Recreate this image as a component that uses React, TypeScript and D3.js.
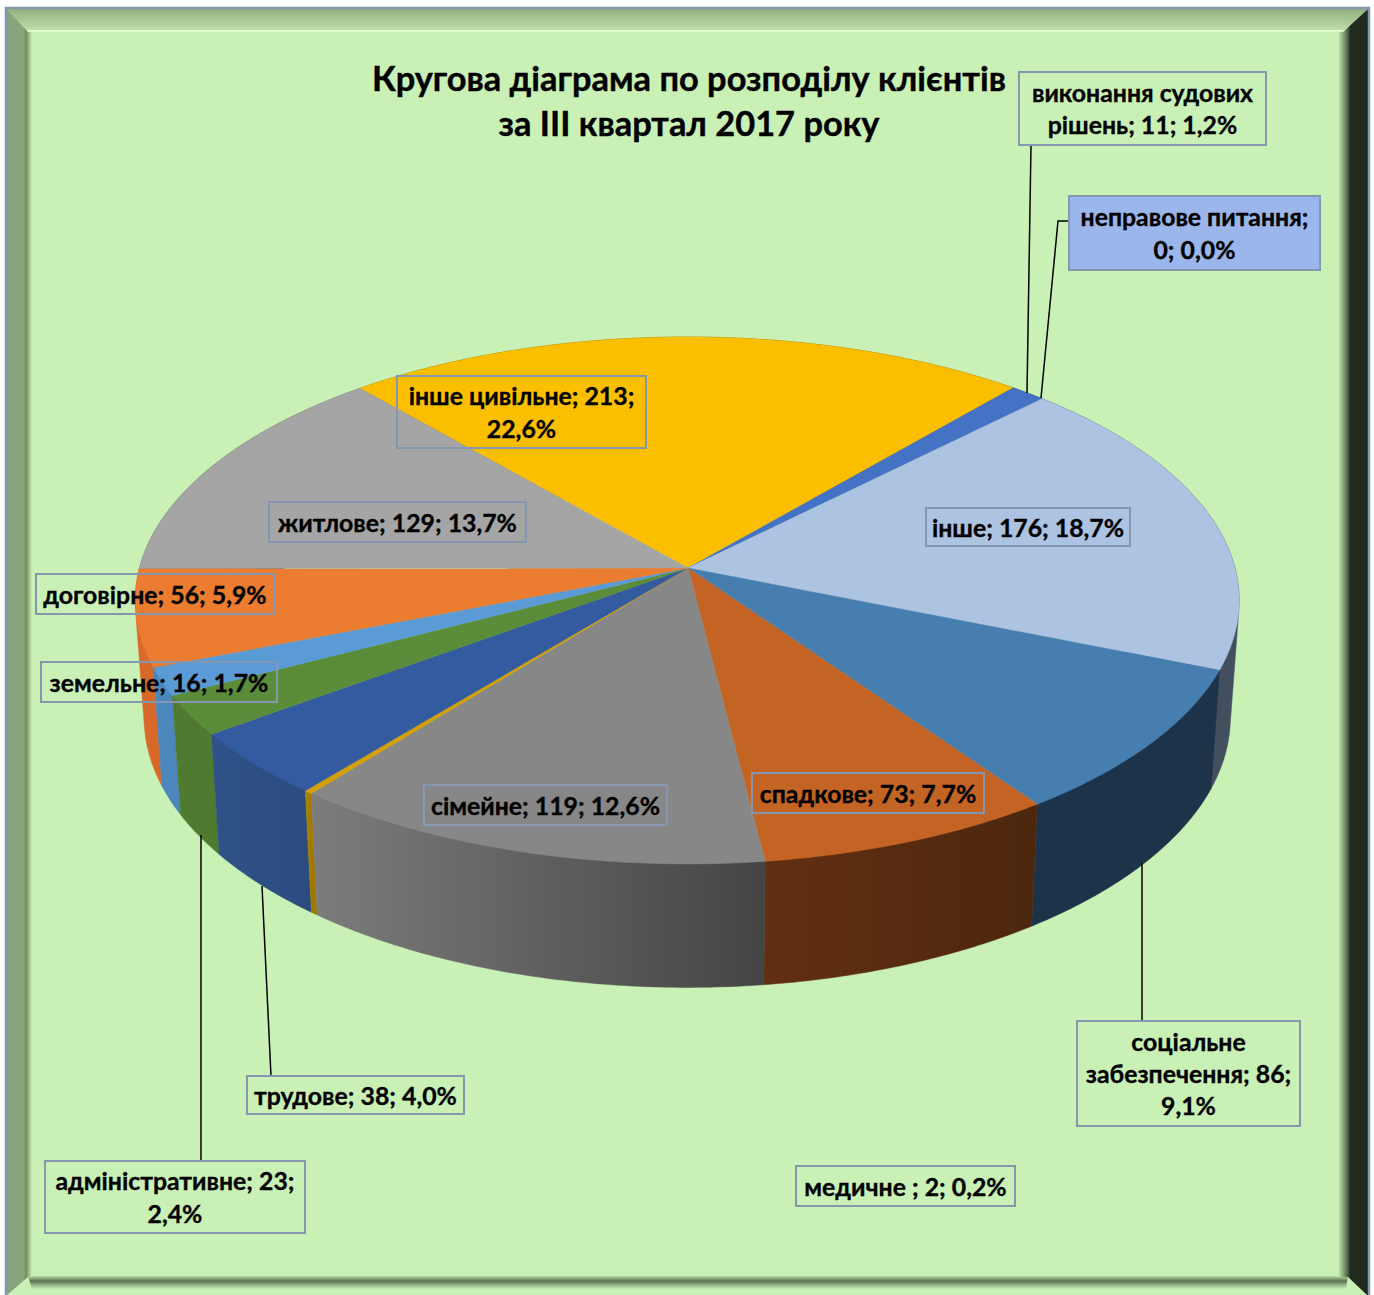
import React from 'react';
import * as d3 from 'd3';

const categories = ['інше цивільне', 'виконання судових рішень', 'неправове питання', 'інше', 'соціальне забезпечення', 'спадкове', 'сімейне', 'медичне ', 'трудове', 'адміністративне', 'земельне', 'договірне', 'житлове'];
const values = [213, 11, 0, 176, 86, 73, 119, 2, 38, 23, 16, 56, 129];
const percents = ['22,6%', '1,2%', '0,0%', '18,7%', '9,1%', '7,7%', '12,6%', '0,2%', '4,0%', '2,4%', '1,7%', '5,9%', '13,7%'];
const titleLines = ['Кругова діаграма по розподілу клієнтів', 'за ІІІ квартал 2017 року'];

const topColors = ['#fcbf00', '#4472c4', '#9bb6ea', '#adc3e2', '#477eb0', '#c46424', '#878787', '#d6a100', '#345ba0', '#5b8c3a', '#5b9bd5', '#ec7c30', '#a5a5a5'];
const wallFrom = ['#7f6000', '#223a63', '#4d5b75', '#434f5e', '#1c334a', '#622f12', '#7c7c7c', '#ad8200', '#2f5288', '#4f7a2f', '#4b86bd', '#d8692a', '#6a6a6a'];
const wallTo = ['#7f6000', '#223a63', '#4d5b75', '#434f5e', '#1c334a', '#4c270e', '#444444', '#a07800', '#2c4c80', '#4f7a2f', '#4b86bd', '#d8692a', '#6a6a6a'];

// label boxes, in slice order: left, top, right, bottom, word count per line
const boxes: [number, number, number, number, number[]][] = [
  [397, 376, 646, 448, [3, 1]],
  [1019, 72, 1266, 145, [2, 3]],
  [1069, 196, 1320, 270, [2, 2]],
  [926, 508, 1130, 546, [3]],
  [1077, 1021, 1300, 1126, [1, 2, 1]],
  [752, 773, 984, 813, [3]],
  [424, 785, 667, 825, [3]],
  [796, 1166, 1015, 1206, [4]],
  [247, 1076, 464, 1114, [3]],
  [45, 1161, 305, 1233, [2, 1]],
  [41, 662, 277, 702, [3]],
  [36, 574, 274, 614, [3]],
  [269, 502, 526, 542, [3]],
];
const leaders = [
  [[1031, 145], [1027, 393]],
  [[1069, 221], [1058, 221], [1041, 398]],
  [[1142, 863], [1142, 1021]],
  [[262, 886], [271, 1076]],
  [[201, 835], [201, 1161]],
];

const FONT = 'Lato, "Noto Sans", sans-serif';
const K = 0.1233;
const CX = 687.2;
const APEX: [number, number] = [688, 568];
const top = (a: number): [number, number] => {
  const u = Math.sin(a), v = -Math.cos(a), d = 1 - K * v;
  return [CX + (547.8 * u) / d, 568 + (259.5 * v) / d];
};
const bottom = (a: number): [number, number] => {
  const u = Math.sin(a), v = -Math.cos(a), d = 1 - K * v;
  return [CX + (539 * u) / d, 684 + (266 * v) / d];
};
const sample = (a0: number, a1: number) => {
  const n = Math.max(2, Math.ceil(Math.abs(a1 - a0) / 0.01));
  return d3.range(n + 1).map((i) => a0 + ((a1 - a0) * i) / n);
};
const line = d3.line();

const arcs = d3
  .pie<number>()
  .sort(null)
  .startAngle((-40.8 * Math.PI) / 180)
  .endAngle(((360 - 40.8) * Math.PI) / 180)(values);

// outer wall = hull of the slice's upper and lower rim; the top face hides the rest
const wallPath = (a0: number, a1: number) => {
  const s = sample(a0, a1);
  const hull = d3.polygonHull([...s.map(top), ...s.map(bottom)]) as [number, number][];
  return line(hull) + 'Z';
};
const topPath = (a0: number, a1: number) => line([APEX, ...sample(a0, a1).map(top)]) + 'Z';
const midFront = (a0: number, a1: number) => top((a0 + a1) / 2)[1];

function Label({ i }: { i: number }) {
  const [x0, y0, x1, y1, counts] = boxes[i];
  const words = `${categories[i]}; ${values[i]}; ${percents[i]}`.split(/\s+/);
  let p = 0;
  const lines = counts.map((c) => {
    const s = words.slice(p, p + c).join(' ');
    p += c;
    return s;
  });
  const lh = 32.3;
  const cy = (y0 + y1) / 2;
  return (
    <g>
      <rect x={x0} y={y0} width={x1 - x0} height={y1 - y0} fill={i === 2 ? '#9bb6ea' : 'none'} stroke="#8496b0" strokeWidth={2} />
      {lines.map((l, j) => (
        <text key={j} x={(x0 + x1) / 2} y={cy + (j - (lines.length - 1) / 2) * lh + 9.5} textAnchor="middle" fontFamily={FONT} fontWeight={700} fontSize={24.8} fill="#000" stroke="#000" strokeWidth={0.35}>
          {l}
        </text>
      ))}
    </g>
  );
}

export default function App() {
  return (
    <svg width={1374} height={1295} viewBox="0 0 1374 1295" style={{ position: 'absolute', left: 0, top: 0 }}>
      <defs>
        <linearGradient id="bt" x1="0" x2="0" y1="0" y2="1">
          <stop offset="0" stopColor="#90b07e" />
          <stop offset="0.9" stopColor="#bddca9" />
          <stop offset="0.93" stopColor="#e8fcd4" />
          <stop offset="1" stopColor="#d8f5c4" />
        </linearGradient>
        <linearGradient id="bl" x1="0" x2="1" y1="0" y2="0">
          <stop offset="0" stopColor="#86a57a" />
          <stop offset="0.68" stopColor="#86a57a" />
          <stop offset="0.76" stopColor="#6f8a63" />
          <stop offset="1" stopColor="#c9f1b5" />
        </linearGradient>
        <linearGradient id="br" x1="0" x2="1" y1="0" y2="0">
          <stop offset="0" stopColor="#c9f1b5" />
          <stop offset="0.3" stopColor="#5a6c50" />
          <stop offset="0.42" stopColor="#212a1e" />
          <stop offset="1" stopColor="#212a1e" />
        </linearGradient>
        <linearGradient id="bb" x1="0" x2="0" y1="0" y2="1">
          <stop offset="0" stopColor="#b5d9a2" />
          <stop offset="0.4" stopColor="#5c7050" />
          <stop offset="0.55" stopColor="#7e9670" />
          <stop offset="1" stopColor="#c9f1b5" />
        </linearGradient>
        {arcs.map((d, i) => {
          const xs = sample(d.startAngle, d.endAngle).map((a) => top(a)[0]);
          return (
            <linearGradient key={i} id={`w${i}`} gradientUnits="userSpaceOnUse" x1={d3.min(xs)} x2={(d3.max(xs) as number) + 1} y1={0} y2={0}>
              <stop offset="0" stopColor={wallFrom[i]} />
              <stop offset="1" stopColor={wallTo[i]} />
            </linearGradient>
          );
        })}
      </defs>

      <rect x={6} y={8} width={1363} height={1287} fill="#c9f1b5" />
      <polygon points="7,9 1368,9 1343,32 28,32" fill="url(#bt)" />
      <polygon points="28,1276 1348,1276 1346,1289 32,1289" fill="url(#bb)" />
      <polygon points="7,9 28,32 32,32 32,1277 28,1277 7,1295" fill="url(#bl)" />
      <polygon points="1368,9 1368,1295 1367,1295 1348,1277 1338,1277 1338,32 1343,32" fill="url(#br)" />
      <path d="M6,1295V8H1369V1295" fill="none" stroke="#8496b0" strokeWidth={2.5} />

      {arcs
        .filter((d) => d.value > 0)
        .slice()
        .sort((a, b) => midFront(a.startAngle, a.endAngle) - midFront(b.startAngle, b.endAngle))
        .map((d) => (
          <path key={d.index} d={wallPath(d.startAngle, d.endAngle)} fill={`url(#w${d.index})`} stroke={`url(#w${d.index})`} strokeWidth={0.5} />
        ))}
      {arcs
        .filter((d) => d.value > 0)
        .map((d) => (
          <path key={d.index} d={topPath(d.startAngle, d.endAngle)} fill={topColors[d.index]} stroke={topColors[d.index]} strokeWidth={0.4} />
        ))}

      {leaders.map((l, i) => (
        <path key={i} d={line(l as [number, number][]) as string} fill="none" stroke="#000" strokeWidth={1.5} />
      ))}

      {titleLines.map((t, i) => (
        <text key={i} x={689} y={91 + i * 45} textAnchor="middle" fontFamily={FONT} fontWeight={700} fontSize={34.4} fill="#000" stroke="#000" strokeWidth={0.4}>
          {t}
        </text>
      ))}
      {categories.map((_, i) => (
        <Label key={i} i={i} />
      ))}
    </svg>
  );
}
